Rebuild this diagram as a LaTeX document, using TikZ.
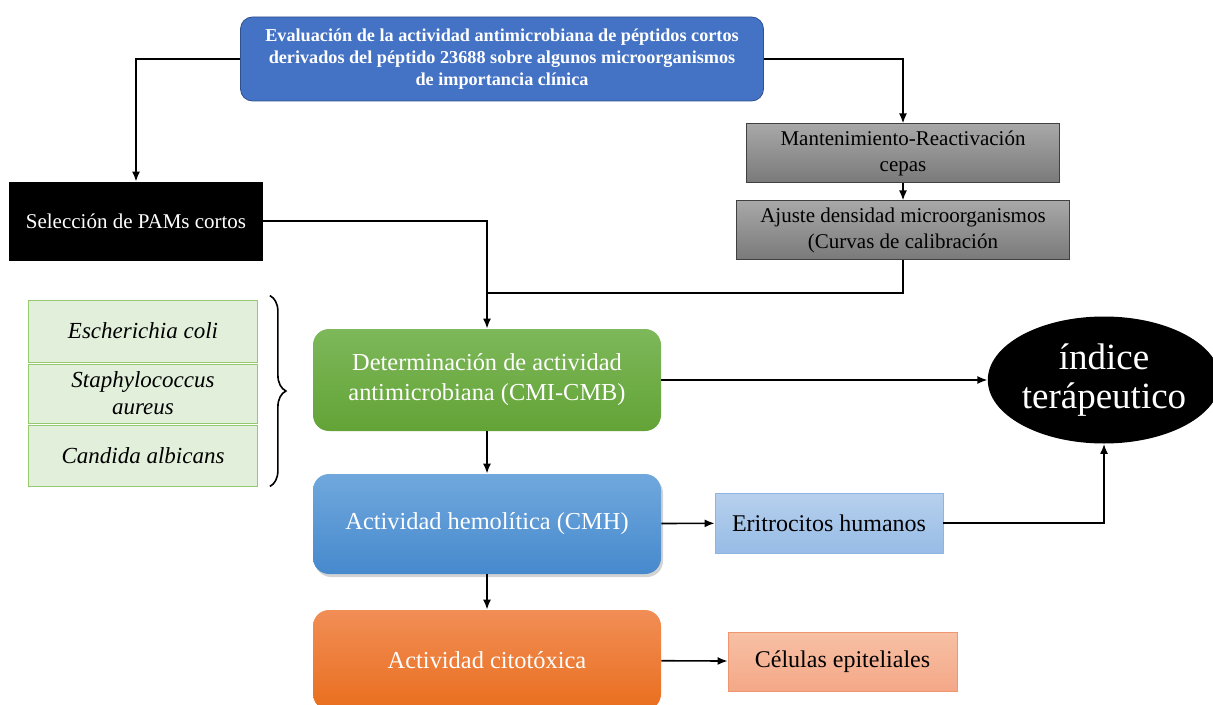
\documentclass[tikz,border=0pt]{standalone}
\usepackage{fontspec}
\setmainfont{Liberation Serif}
\usepackage{tikz}
\usetikzlibrary{shapes, arrows.meta, positioning, decorations.pathreplacing, shadows}

\definecolor{titleblue}{RGB}{68,114,196}
\definecolor{titleedge}{RGB}{47,82,143}
\definecolor{greentop}{RGB}{125,184,90}
\definecolor{greenbot}{RGB}{99,163,54}
\definecolor{bluetop}{RGB}{112,168,221}
\definecolor{bluebot}{RGB}{70,137,205}
\definecolor{orangetop}{RGB}{241,142,86}
\definecolor{orangebot}{RGB}{233,110,30}
\definecolor{graytop}{RGB}{168,168,168}
\definecolor{graybot}{RGB}{122,122,122}
\definecolor{speciesfill}{RGB}{226,239,218}
\definecolor{speciesedge}{RGB}{150,200,110}
\definecolor{eritop}{RGB}{183,208,237}
\definecolor{eribot}{RGB}{151,188,230}
\definecolor{eriedge}{RGB}{141,180,226}
\definecolor{celtop}{RGB}{247,192,165}
\definecolor{celbot}{RGB}{244,168,135}
\definecolor{celedge}{RGB}{240,150,110}

\begin{document}
\begin{tikzpicture}
  [
    x=0.5pt, y=-0.5pt,
    Title/.style={rectangle, rounded corners=6pt, draw=titleedge, fill=titleblue, text=white, font=\bfseries\fontsize{9.1}{11}\selectfont, align=center, minimum width=261.5pt, minimum height=42pt},
    Gray/.style={rectangle, draw=black!75, top color=graytop, bottom color=graybot, font=\fontsize{10.5}{13}\selectfont, align=center, minimum width=156.5pt, minimum height=27.5pt},
    Black/.style={rectangle, draw=black, fill=black, text=white, font=\fontsize{10.5}{13}\selectfont, minimum width=126.5pt, minimum height=39pt},
    Species/.style={rectangle, draw=speciesedge, fill=speciesfill, font=\itshape\fontsize{11.5}{13.5}\selectfont, align=center, minimum width=114.5pt},
    Step/.style={rectangle, rounded corners=8pt, text=white, font=\fontsize{12.2}{15}\selectfont, align=center, minimum width=174pt, minimum height=51pt},
    Side/.style={rectangle, font=\fontsize{12}{13}\selectfont, minimum width=114pt, minimum height=30pt},
    Round/.style={ellipse, fill=black, text=white, font=\fontsize{18.5}{19.5}\selectfont, align=center, minimum width=113pt, minimum height=63.5pt, inner sep=0pt},
    Arrow/.style={-{Latex[length=5pt,width=4pt]}, thick}
  ]
  \clip (0,0) rectangle (1213,705);
  % Nodes
  \node[Title] (eval) at(502, 59) {Evaluación de la actividad antimicrobiana de péptidos cortos\\derivados del péptido 23688 sobre algunos microorganismos\\de importancia clínica};

  \node[Gray] (mant) at(903, 153) {Mantenimiento-Reactivación\\cepas};
  \node[Gray, minimum width=166.5pt, minimum height=28.5pt] (ajuste) at(903, 230) {Ajuste densidad microorganismos\\(Curvas de calibración};

  \node[Black] (sel) at(136, 221) {Selección de PAMs cortos};

  \node[Species, minimum height=31pt] (ecoli) at(143, 331) {Escherichia coli};
  \node[Species, minimum height=29.5pt] (staph) at(143, 393.5) {Staphylococcus\\aureus};
  \node[Species, minimum height=30.5pt] (candida) at(143, 455.5) {Candida albicans};

  \node[Step, top color=greentop, bottom color=greenbot] (det) at(487, 380) {Determinación de actividad\\antimicrobiana (CMI-CMB)};
  \node[Step, top color=bluetop, bottom color=bluebot, minimum height=50pt, drop shadow={opacity=0.35, shadow xshift=1pt, shadow yshift=-1.5pt}] (hemo) at(487, 524) {Actividad hemolítica (CMH)};
  \node[Step, top color=orangetop, bottom color=orangebot, minimum height=50pt] (cito) at(487, 660) {Actividad citotóxica};

  \node[Round] (indice) at(1104, 380) {índice\\terápeutico};

  \node[Side, draw=eriedge, top color=eritop, bottom color=eribot] (eri) at(829, 523) {Eritrocitos humanos};
  \node[Side, draw=celedge, top color=celtop, bottom color=celbot, minimum width=114.5pt, minimum height=29.5pt] (cel) at(842.5, 661.5) {Células epiteliales};

  \coordinate (join) at(487, 293);

  % Connectors
  \draw[Arrow] (eval.west) -| (sel.north);
  \draw[Arrow] (eval.east) -| (mant.north);
  \draw[Arrow] (mant) -- (ajuste);
  \draw[Arrow] (sel.east) -| (det.north);
  \draw[thick] (ajuste.south) |- (join);
  \draw[Arrow] (det) -- (indice);
  \draw[Arrow] (det) -- (hemo);
  \draw[Arrow] (hemo) -- (cito);
  \draw[Arrow] (hemo) -- (eri);
  \draw[Arrow] (eri.east) -| (indice.south);
  \draw[Arrow] (cito) -- (cel);

  % Brace
  \draw[thick, decorate, decoration={brace, amplitude=8pt}] ([xshift=6pt, yshift=2pt]ecoli.north east) -- ([xshift=6pt]candida.south east);
\end{tikzpicture}
\end{document}
